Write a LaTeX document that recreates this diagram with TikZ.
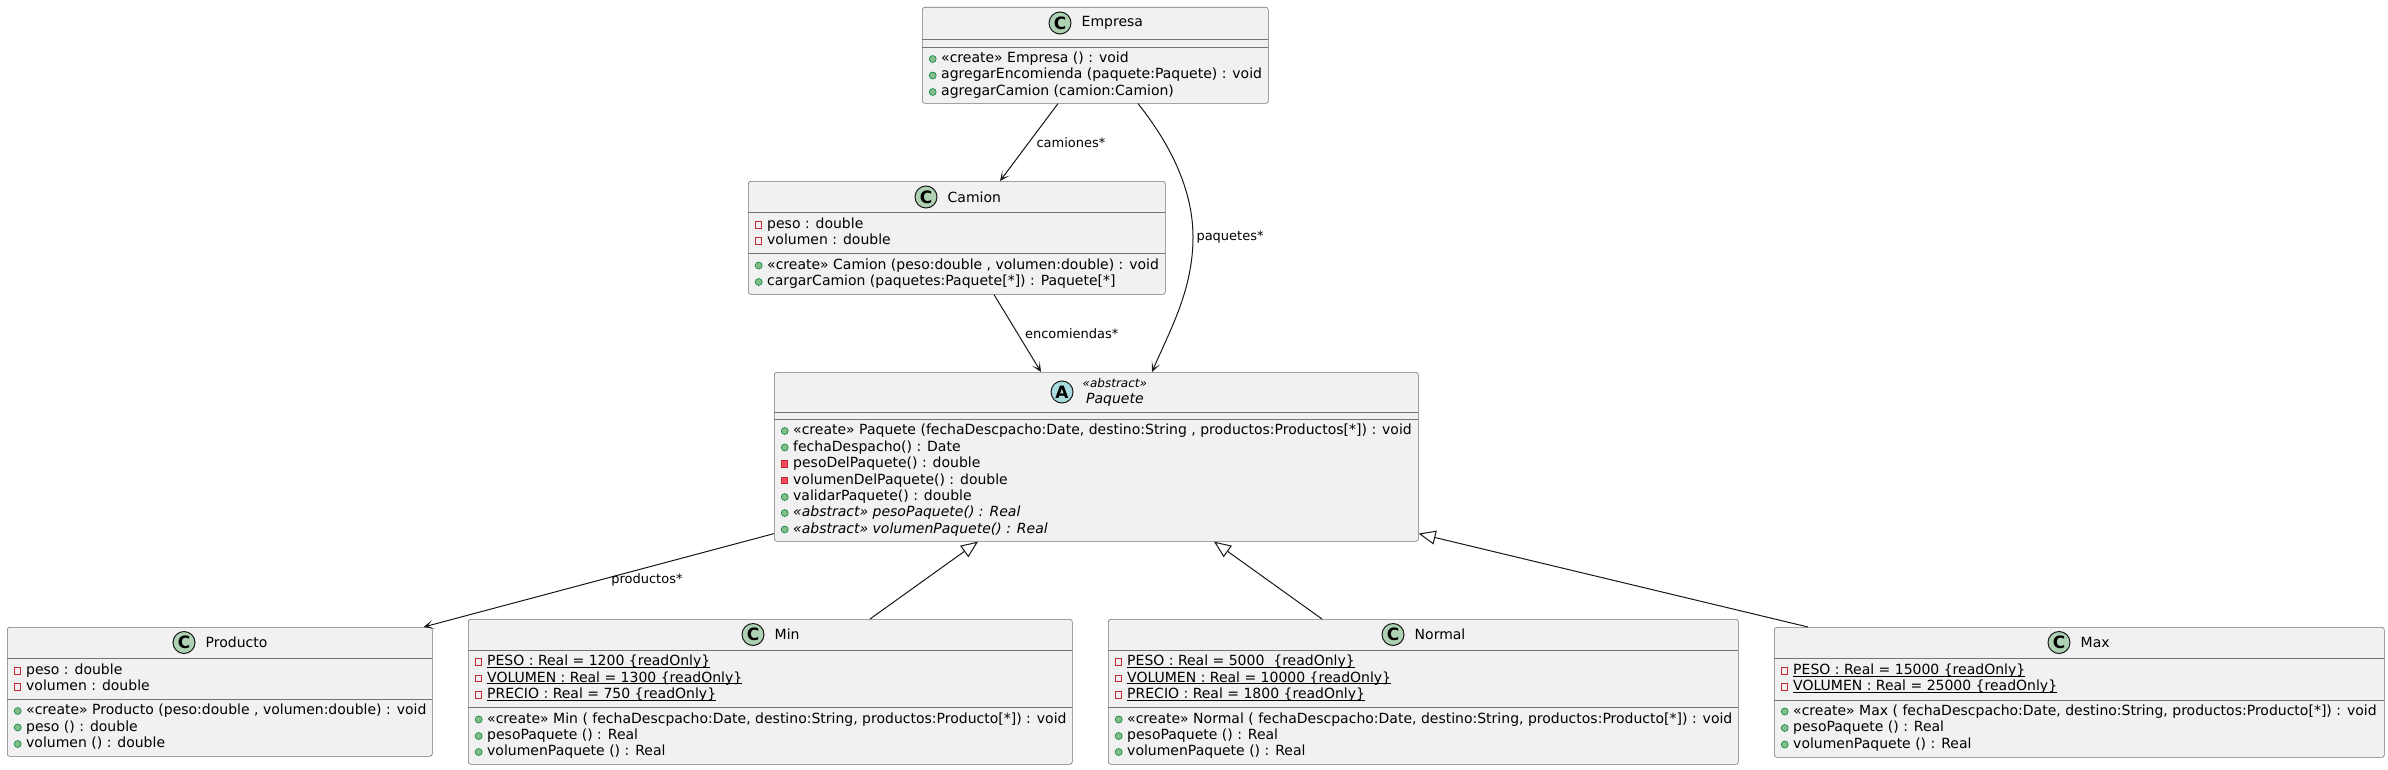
\documentclass[tikz,border=0pt]{standalone}
\usepackage{fontspec}
\setmainfont{DejaVu Sans}
\usepackage{tikz}
\usetikzlibrary{arrows.meta,positioning,calc}

\definecolor{umlfill}{HTML}{F1F1F1}
\definecolor{umlline}{HTML}{181818}
\definecolor{classtag}{HTML}{ADD1B2}
\definecolor{abstag}{HTML}{A9DCDF}
\definecolor{pubfill}{HTML}{84BE84}
\definecolor{publine}{HTML}{038048}
\definecolor{privfill}{HTML}{F24D5C}
\definecolor{privline}{HTML}{C82930}

% static members are underlined
\newcommand{\staticattr}[1]{\setbox0\hbox{#1}\rlap{\rule[-2bp]{\wd0}{0.9bp}}\box0}

\tikzset{
	classbox/.style={draw=umlline!60, fill=umlfill, line width=0.6bp, rounded corners=2.5bp, anchor=north west, inner sep=0pt},
	sepline/.style={draw=umlline!60, line width=0.6bp},
	ctag/.style={circle, draw=umlline, line width=1bp, fill=classtag, minimum size=22bp, inner sep=0pt, font=\fontsize{17bp}{17bp}\selectfont\bfseries},
	cname/.style={anchor=west, inner sep=0pt},
	member/.style={anchor=west, inner sep=0pt, text height=10bp, text depth=3bp},
	pubdot/.style={circle, fill=pubfill, draw=publine, line width=0.6bp, minimum size=7bp, inner sep=0pt, text height=0pt, text depth=0pt, xshift=-4.5bp},
	privbox/.style={rectangle, draw=privline, line width=0.8bp, minimum size=6.5bp, inner sep=0pt, text height=0pt, text depth=0pt, xshift=-4.8bp},
	pub/.style={member, label={[pubdot]left:{}}},
	priv/.style={member, label={[privbox]left:{}}},
	privop/.style={member, label={[privbox, fill=privfill]left:{}}},
	lbl/.style={inner sep=0pt, font=\fontsize{13bp}{15bp}\selectfont},
	assoc/.style={draw=umlline, line width=1bp, -{Stealth[length=10bp, width=9bp, inset=6bp]}},
	generalize/.style={draw=umlline, line width=1bp, -{Triangle[open, length=17bp, width=14bp]}}
}

\begin{document}
\begin{tikzpicture}[x=1bp, y=-1bp, font=\fontsize{14bp}{16bp}\selectfont]
	\useasboundingbox (0,0) rectangle (2388,770);
	\fill[white] (0,0) rectangle (2388,770);
	
	% Empresa
	\node[classbox, minimum width=346bp, minimum height=96bp] (Empresa) at (922,7) {};
	\draw[sepline] (922,39) -- (1268,39);
	\draw[sepline] (922,47) -- (1268,47);
	\node[ctag] (EmpresaC) at (1060,23) {C};
	\node[cname, right=10bp of EmpresaC] (EmpresaN) {Empresa};
	\node[pub] (EmpresaM1) at (941,59) {«create» Empresa () : void};
	\node[pub] (EmpresaM2) at (941,75.5) {agregarEncomienda (paquete:Paquete) : void};
	\node[pub] (EmpresaM3) at (941,92) {agregarCamion (camion:Camion)};
	
	% Camion
	\node[classbox, minimum width=417bp, minimum height=113bp] (Camion) at (748,181) {};
	\draw[sepline] (748,212) -- (1165,212);
	\draw[sepline] (748,253) -- (1165,253);
	\node[ctag] (CamionC) at (926,197) {C};
	\node[cname, right=10bp of CamionC] (CamionN) {Camion};
	\node[priv] (CamionA1) at (767,225) {peso : double};
	\node[priv] (CamionA2) at (767,241) {volumen : double};
	\node[pub] (CamionM1) at (767,265.5) {«create» Camion (peso:double , volumen:double) : void};
	\node[pub] (CamionM2) at (767,282) {cargarCamion (paquetes:Paquete[*]) : Paquete[*]};
	
	% Paquete, abstract
	\node[classbox, minimum width=644bp, minimum height=169bp] (Paquete) at (774,372) {};
	\draw[sepline] (774,412) -- (1418,412);
	\draw[sepline] (774,419) -- (1418,419);
	\node[ctag, fill=abstag] (PaqueteA) at (1062,392) {A};
	\node[cname, right=9bp of PaqueteA, align=center] (PaqueteN) {{\itshape\fontsize{12bp}{14bp}\selectfont «abstract»}\\{\itshape Paquete}};
	\node[pub] (PaqueteM1) at (793,431) {«create» Paquete (fechaDescpacho:Date, destino:String , productos:Productos[*]) : void};
	\node[pub] (PaqueteM2) at (793,447.5) {fechaDespacho() : Date};
	\node[privop] (PaqueteM3) at (793,464) {pesoDelPaquete() : double};
	\node[privop] (PaqueteM4) at (793,480.5) {volumenDelPaquete() : double};
	\node[pub] (PaqueteM5) at (793,497) {validarPaquete() : double};
	\node[pub] (PaqueteM6) at (793,513) {\itshape «abstract» pesoPaquete() : Real};
	\node[pub] (PaqueteM7) at (793,529.5) {\itshape «abstract» volumenPaquete() : Real};
	
	% Producto
	\node[classbox, minimum width=425bp, minimum height=129bp] (Producto) at (7,627) {};
	\draw[sepline] (7,658) -- (432,658);
	\draw[sepline] (7,699) -- (432,699);
	\node[ctag] (ProductoC) at (184,642.5) {C};
	\node[cname, right=10bp of ProductoC] (ProductoN) {Producto};
	\node[priv] (ProductoA1) at (26,671) {peso : double};
	\node[priv] (ProductoA2) at (26,687) {volumen : double};
	\node[pub] (ProductoM1) at (26,711) {«create» Producto (peso:double , volumen:double) : void};
	\node[pub] (ProductoM2) at (26,727.5) {peso () : double};
	\node[pub] (ProductoM3) at (26,744) {volumen () : double};
	
	% Min
	\node[classbox, minimum width=604bp, minimum height=145bp] (Min) at (468,619) {};
	\draw[sepline] (468,650) -- (1072,650);
	\draw[sepline] (468,707) -- (1072,707);
	\node[ctag] (MinC) at (753,634.5) {C};
	\node[cname, right=10bp of MinC] (MinN) {Min};
	\node[priv] (MinA1) at (487,662) {\staticattr{PESO : Real = 1200 \{readOnly\}}};
	\node[priv] (MinA2) at (487,678.5) {\staticattr{VOLUMEN : Real = 1300 \{readOnly\}}};
	\node[priv] (MinA3) at (487,695) {\staticattr{PRECIO : Real = 750 \{readOnly\}}};
	\node[pub] (MinM1) at (487,719.5) {«create» Min ( fechaDescpacho:Date, destino:String, productos:Producto[*]) : void};
	\node[pub] (MinM2) at (487,736) {pesoPaquete () : Real};
	\node[pub] (MinM3) at (487,752) {volumenPaquete () : Real};
	
	% Normal
	\node[classbox, minimum width=630bp, minimum height=145bp] (Normal) at (1108,619) {};
	\draw[sepline] (1108,650) -- (1738,650);
	\draw[sepline] (1108,707) -- (1738,707);
	\node[ctag] (NormalC) at (1393,634.5) {C};
	\node[cname, right=10bp of NormalC] (NormalN) {Normal};
	\node[priv] (NormalA1) at (1127,662) {\staticattr{PESO : Real = 5000\ \ \{readOnly\}}};
	\node[priv] (NormalA2) at (1127,678.5) {\staticattr{VOLUMEN : Real = 10000 \{readOnly\}}};
	\node[priv] (NormalA3) at (1127,695) {\staticattr{PRECIO : Real = 1800 \{readOnly\}}};
	\node[pub] (NormalM1) at (1127,719.5) {«create» Normal ( fechaDescpacho:Date, destino:String, productos:Producto[*]) : void};
	\node[pub] (NormalM2) at (1127,736) {pesoPaquete () : Real};
	\node[pub] (NormalM3) at (1127,752) {volumenPaquete () : Real};
	
	% Max
	\node[classbox, minimum width=610bp, minimum height=130bp] (Max) at (1774,627) {};
	\draw[sepline] (1774,658) -- (2384,658);
	\draw[sepline] (1774,700) -- (2384,700);
	\node[ctag] (MaxC) at (2059,642.5) {C};
	\node[cname, right=10bp of MaxC] (MaxN) {Max};
	\node[priv] (MaxA1) at (1793,671) {\staticattr{PESO : Real = 15000 \{readOnly\}}};
	\node[priv] (MaxA2) at (1793,687) {\staticattr{VOLUMEN : Real = 25000 \{readOnly\}}};
	\node[pub] (MaxM1) at (1793,711.5) {«create» Max ( fechaDescpacho:Date, destino:String, productos:Producto[*]) : void};
	\node[pub] (MaxM2) at (1793,728) {pesoPaquete () : Real};
	\node[pub] (MaxM3) at (1793,744.5) {volumenPaquete () : Real};
	
	% associations
	\draw[assoc] ($(Empresa.south west)+(136,0)$) -- node[lbl, right=7bp] (camionesL) {camiones*} ($(Camion.north west)+(252,0)$);
	\draw[assoc] ($(Empresa.south west)+(216,0)$) .. controls (1175,150) and (1193,195) .. (1193,237) node[lbl, right=3bp] (paquetesL) {paquetes*} .. controls (1193,290) and (1170,330) .. ($(Paquete.north west)+(378,0)$);
	\draw[assoc] ($(Camion.south west)+(246,0)$) -- node[lbl, right=7bp] (encomiendasL) {encomiendas*} ($(Paquete.north west)+(267,0)$);
	\draw[assoc] ($(Paquete.south west)+(0,-8)$) -- node[lbl, right=12bp] (productosL) {productos*} ($(Producto.north east)+(-9,0)$);
	
	% generalizations
	\draw[generalize] ($(Min.north west)+(402,0)$) -- ($(Paquete.south west)+(204,0)$);
	\draw[generalize] ($(Normal.north west)+(214,0)$) -- ($(Paquete.south west)+(440,0)$);
	\draw[generalize] ($(Max.north west)+(34,0)$) -- ($(Paquete.south east)+(0,-8)$);
\end{tikzpicture}
\end{document}
